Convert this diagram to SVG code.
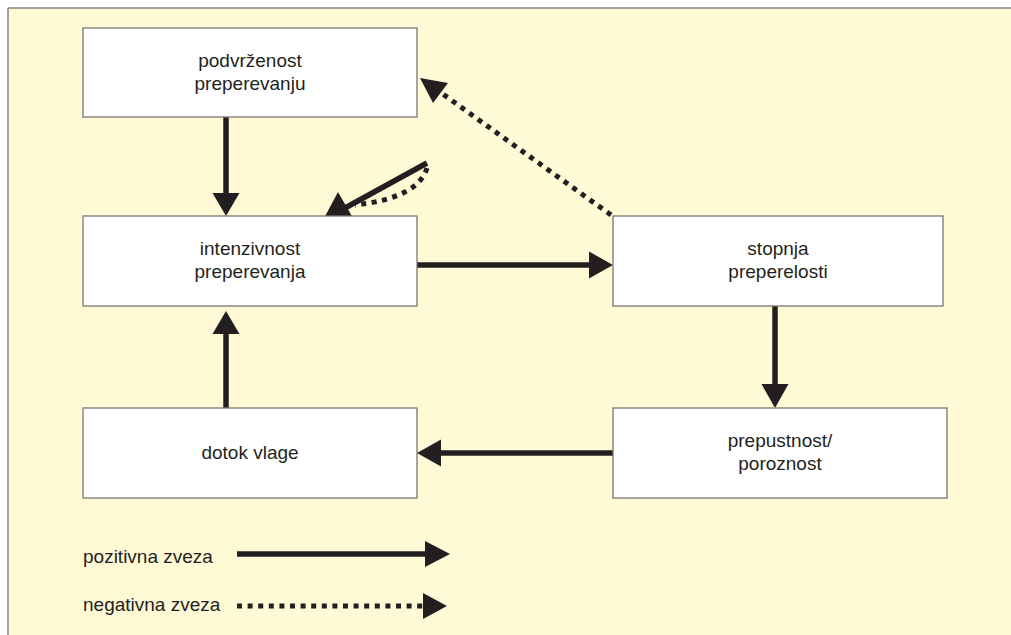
<svg xmlns="http://www.w3.org/2000/svg" width="1011" height="635" viewBox="0 0 1011 635">
<style>
.node rect{fill:#ffffff;stroke:#7a7670;stroke-width:1.3}
text{font-family:"Liberation Sans",Arial,sans-serif;font-size:19px;fill:#231f20}
.node text{text-anchor:middle}
.pos{stroke:#231f20;stroke-width:5.5;fill:none}
.neg{stroke:#231f20;stroke-width:5;fill:none;stroke-dasharray:5 5.6}
.head{fill:#231f20}
.frame{stroke:#858280;stroke-width:1.5}
</style>
<rect x="0" y="0" width="1011" height="635" fill="#ffffff"/>
<rect x="8" y="8" width="1003" height="627" fill="#fff9d6"/>
<line class="frame" x1="8" y1="8" x2="1011" y2="8"/>
<line class="frame" x1="8" y1="8" x2="8" y2="635"/>
<g id="connectors">
<line class="pos" x1="226" y1="117" x2="226" y2="195"/>
<polygon class="head" points="212.5,193 239.5,193 226,216"/>
<line class="pos" x1="226" y1="408" x2="226" y2="332"/>
<polygon class="head" points="212.5,334 239.5,334 226,311"/>
<line class="pos" x1="416" y1="265" x2="592" y2="265"/>
<polygon class="head" points="589,251.5 589,278.5 613,265"/>
<line class="pos" x1="775" y1="306" x2="775" y2="386"/>
<polygon class="head" points="761.5,384 788.5,384 775,408"/>
<line class="pos" x1="613" y1="453" x2="438" y2="453"/>
<polygon class="head" points="441,439.5 441,466.5 417,453"/>
<line class="neg" x1="611" y1="215" x2="440" y2="92"/>
<polygon class="head" points="420,78 448,83 433,103"/>
<line class="pos" x1="427" y1="163" x2="345" y2="208"/>
<polygon class="head" points="338,192 353,218 322,222"/>
<path class="neg" d="M427,168 Q418,198 355,205"/>
</g>
<g id="n1" class="node"><rect x="83" y="28" width="334" height="89"/><text x="250" y="67">podvrženost</text><text x="250" y="90">preperevanju</text></g>
<g id="n2" class="node"><rect x="83" y="216" width="334" height="90"/><text x="250" y="255">intenzivnost</text><text x="250" y="278">preperevanja</text></g>
<g id="n3" class="node"><rect x="613" y="216" width="330" height="90"/><text x="778" y="255">stopnja</text><text x="778" y="278">preperelosti</text></g>
<g id="n4" class="node"><rect x="613" y="408" width="334" height="90"/><text x="780" y="447">prepustnost/</text><text x="780" y="470">poroznost</text></g>
<g id="n5" class="node"><rect x="83" y="408" width="334" height="90"/><text x="250" y="459">dotok vlage</text></g>
<g id="legend">
<text x="83" y="563">pozitivna zveza</text>
<line class="pos" x1="237" y1="554" x2="428" y2="554"/>
<polygon class="head" points="425,541 425,567 450,554"/>
<text x="83" y="611">negativna zveza</text>
<line class="neg" x1="237" y1="606" x2="424" y2="606"/>
<polygon class="head" points="423,593 423,619 447,606"/>
</g>
</svg>
